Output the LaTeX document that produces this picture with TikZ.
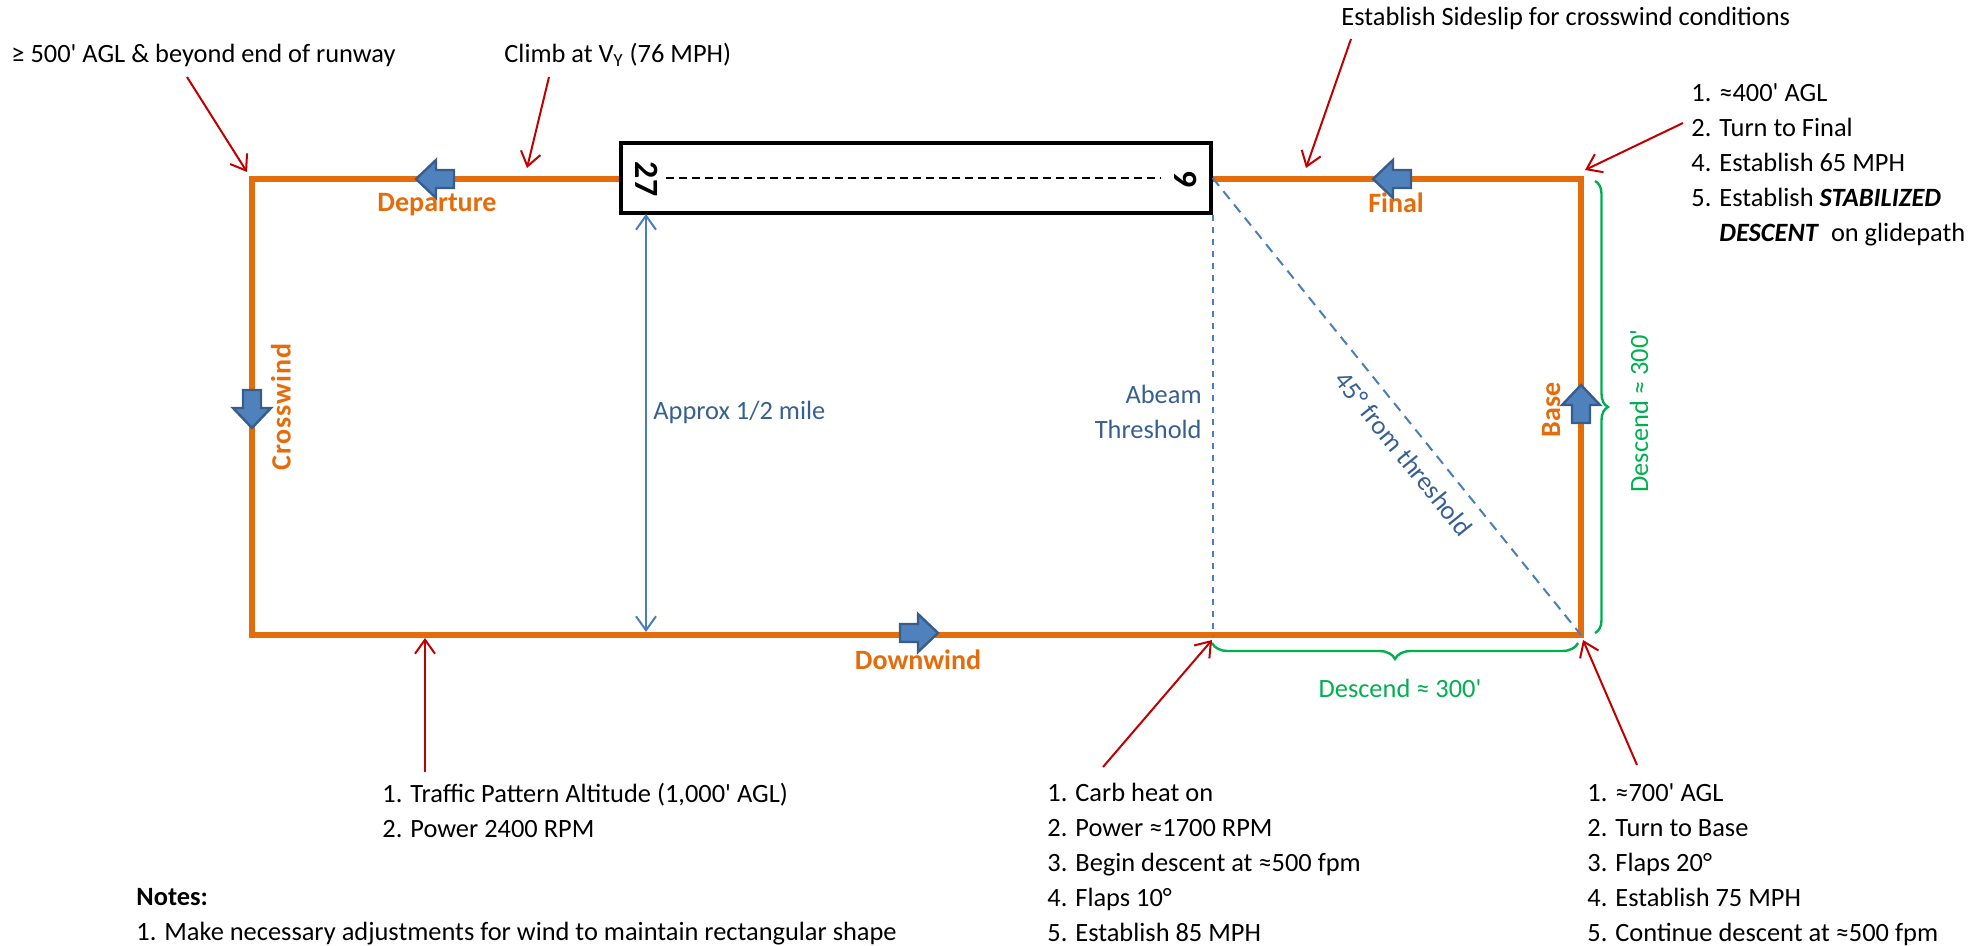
\documentclass[tikz,border=0pt]{standalone}
\usepackage{fontspec}
\setmainfont{Carlito}
\usepackage{tikz}
\usetikzlibrary{arrows.meta,decorations.pathreplacing,positioning}
\definecolor{legorange}{HTML}{E46C0A}
\definecolor{flowblue}{HTML}{4F81BD}
\definecolor{flowedge}{HTML}{385D8A}
\definecolor{lineblue}{HTML}{4A7EBB}
\definecolor{textblue}{HTML}{376092}
\definecolor{calloutred}{HTML}{C00000}
\definecolor{bracegreen}{HTML}{00B050}
\tikzset{>={Straight Barb[length=7pt,width=10pt]}}
\newcommand{\txt}{\fontsize{13.2}{17.5}\selectfont}
\newcommand{\ft}{\textquotesingle}

\begin{document}
\begin{tikzpicture}[x=0.5pt,y=-0.5pt,
                    legline/.style={legorange, line width=3.3pt},
                    calloutarrow/.style={calloutred, line width=1pt, ->},
                    pics/flowarrow/.style={code={
                      \draw[flowedge, fill=flowblue, line width=1.2pt]
                        (-9.5pt,-4.5pt) -- (-0.5pt,-4.5pt) -- (-0.5pt,-9.5pt) -- (9.5pt,0pt)
                        -- (-0.5pt,9.5pt) -- (-0.5pt,4.5pt) -- (-9.5pt,4.5pt) -- cycle;}},
                    leglabel/.style={legorange, font=\fontsize{14}{17}\selectfont\bfseries},
                    steplist/.style={font=\txt, align=left, inner sep=0pt},
                    dimline/.style={lineblue, line width=1pt},
                    dimlabel/.style={textblue, font=\txt, inner sep=0pt},
                    greenbrace/.style={bracegreen, line width=1.2pt, decorate, decoration={brace, amplitude=#1}},
                   ]

\useasboundingbox (0,0) rectangle (1979,946);

% pattern corners
\coordinate (tl) at (252,179);
\coordinate (tr) at (1581,179);
\coordinate (br) at (1581,635);
\coordinate (bl) at (252,635);

\draw[legline] (tl) -- (tr) -- (br) -- (bl) -- cycle;

% runway
\node[draw, fill=white, line width=1.7pt, minimum width=295pt, minimum height=35pt, inner sep=0pt] (runway) at (916,178) {};
\node[font=\fontsize{17}{17}\selectfont\bfseries, rotate=-90] (rwy27) at (647,179) {27};
\node[font=\fontsize{17}{17}\selectfont\bfseries, rotate=-90] (rwy9) at (1186,179) {9};
\draw[line width=1pt, dash pattern=on 4pt off 2.5pt] (666,178) -- (1161,178);

% direction of flight
\pic[rotate=180] (depflow) at (435,179) {flowarrow};
\pic[rotate=180] (finflow) at (1392,179) {flowarrow};
\pic[rotate=-90] (xwflow) at (252,409) {flowarrow};
\pic[rotate=90] (baseflow) at (1581,404) {flowarrow};
\pic (dwflow) at (919,633) {flowarrow};

\node[leglabel] (deplbl) at (437,205) {Departure};
\node[leglabel] (finlbl) at (1396,203) {Final};
\node[leglabel] (dwlbl) at (918,660) {Downwind};
\node[leglabel, rotate=90] (xwlbl) at (281,407) {\addfontfeature{LetterSpace=3}Crosswind};
\node[leglabel, rotate=90] (baselbl) at (1551,410) {Base};

% distances
\coordinate (halftop) at (646,214);
\coordinate (halfbot) at (646,632);
\draw[dimline, <->] (halftop) -- (halfbot);
\node[dimlabel, anchor=west] (halflbl) at (653,412) {Approx 1/2 mile};

\draw[dimline, dashed] (runway.south east) -- (runway.south east |- bl);
\node[dimlabel, anchor=east, align=right] (abeam) at (1202,412) {Abeam\\Threshold};

\draw[dimline, dash pattern=on 5pt off 3.5pt] (runway.east) -- (br)
     node[pos=0.57, sloped, below=7pt, dimlabel] (fortyfive) {45° from threshold};

\draw[greenbrace=6.5pt] (1595,181) -- (1595,633);
\node[bracegreen, font=\txt, rotate=90] (descbase) at (1639,411) {Descend ≈ 300\ft};
\draw[greenbrace=8pt] (1578,643) -- (1212,643);
\node[bracegreen, font=\txt] (descdown) at (1400,688) {Descend ≈ 300\ft};

% callouts
\node[steplist, anchor=west] (agl500) at (11,55) {≥ 500\ft{} AGL \& beyond end of runway};
\node[steplist, anchor=west] (climb) at (504,55) {Climb at V\textsubscript{Y} (76 MPH)};
\node[steplist, anchor=west] (sideslip) at (1341,18) {Establish Sideslip for crosswind conditions};

\node[steplist, anchor=north west] (finalsteps) at (1691,83)
     {1. ≈400\ft{} AGL\\2. Turn to Final\\4. Establish 65 MPH\\5. Establish \textbf{\textit{STABILIZED}}\\
      \hphantom{5. }\textbf{\textit{DESCENT}}\ \ on glidepath};
\node[steplist, anchor=north west] (dwsteps) at (382,783)
     {1. Traffic Pattern Altitude (1,000\ft{} AGL)\\2. Power 2400 RPM};
\node[steplist, anchor=north west] (abeamsteps) at (1047,783)
     {1. Carb heat on\\2. Power ≈1700 RPM\\3. Begin descent at ≈500 fpm\\4. Flaps 10°\\5. Establish 85 MPH};
\node[steplist, anchor=north west] (basesteps) at (1587,783)
     {1. ≈700\ft{} AGL\\2. Turn to Base\\3. Flaps 20°\\4. Establish 75 MPH\\5. Continue descent at ≈500 fpm};
\node[steplist, anchor=north west] (notes) at (136,888)
     {\textbf{Notes:}\\1. Make necessary adjustments for wind to maintain rectangular shape};

\coordinate (a500) at (187,77);   \coordinate (a500tip) at (247,172);
\coordinate (aclimb) at (549,77); \coordinate (aclimbtip) at (527,168);
\coordinate (aslip) at (1351,39); \coordinate (asliptip) at (1306,168);
\coordinate (afinal) at (1683,123); \coordinate (afinaltip) at (1585,170);
\coordinate (adw) at (425,772);   \coordinate (adwtip) at (425,638);
\coordinate (aabeam) at (1103,767); \coordinate (aabeamtip) at (1212,640);
\coordinate (abase) at (1637,765); \coordinate (abasetip) at (1583,640);

\draw[calloutarrow] (a500) -- (a500tip);
\draw[calloutarrow] (aclimb) -- (aclimbtip);
\draw[calloutarrow] (aslip) -- (asliptip);
\draw[calloutarrow] (afinal) -- (afinaltip);
\draw[calloutarrow] (adw) -- (adwtip);
\draw[calloutarrow] (aabeam) -- (aabeamtip);
\draw[calloutarrow] (abase) -- (abasetip);

\end{tikzpicture}
\end{document}
